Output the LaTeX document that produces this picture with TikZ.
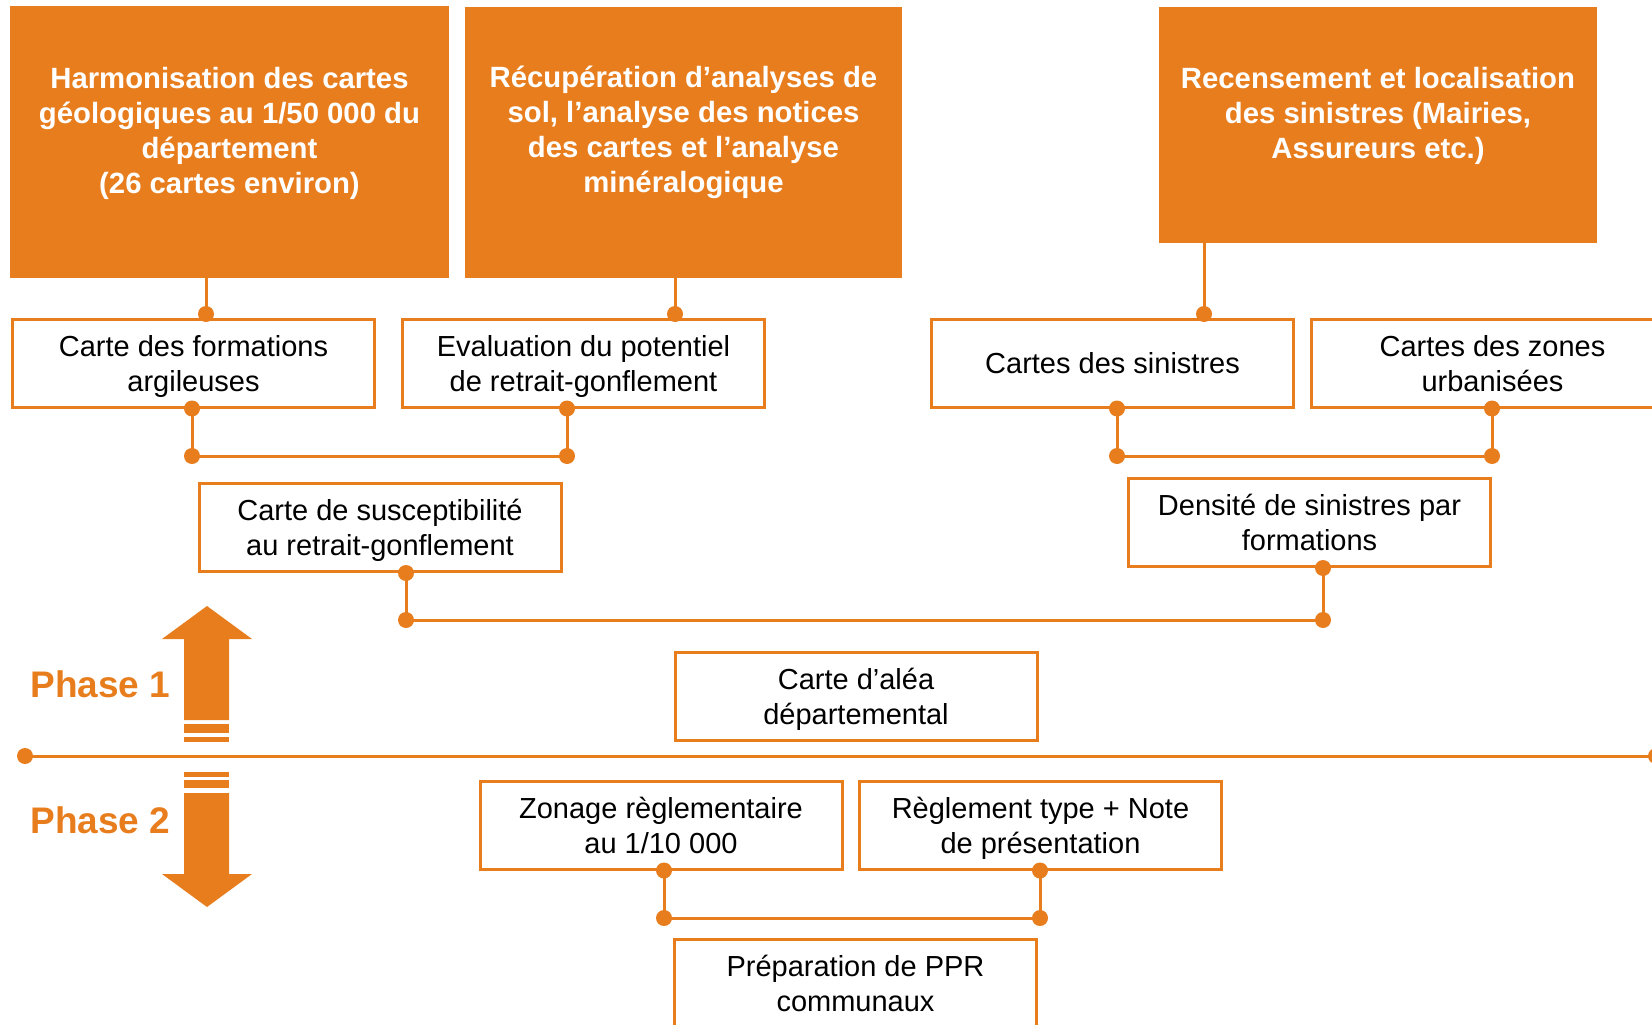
\documentclass[tikz,border=0pt]{standalone}
\usepackage{fontspec}
\setmainfont{Liberation Sans}
\definecolor{brgmorange}{RGB}{232,125,30}
\begin{document}
\begin{tikzpicture}[x=1pt,y=-1pt,
  orangebox/.style={fill=brgmorange, inner sep=0pt},
  titletext/.style={text=white, align=center, font=\fontsize{29.3}{35}\selectfont\bfseries},
  whitebox/.style={draw=brgmorange, line width=3pt, fill=white, inner sep=0pt, text depth=0pt,
    minimum width=362pt, minimum height=88pt, align=center, font=\fontsize{29}{35}\selectfont},
  link/.style={draw=brgmorange, line width=3pt},
  phasetext/.style={text=brgmorange, font=\fontsize{37}{40}\selectfont\bfseries}]
\useasboundingbox (0,0) rectangle (1652,1025);
\clip (0,0) rectangle (1652,1025);

% Data sources (orange boxes)
\node[orangebox, minimum width=439pt, minimum height=272pt] (harm) at (229.5,142) {};
\node[titletext] (harmtxt) at (229.5,133)
  {Harmonisation des cartes\\géologiques au 1/50 000 du\\département\\(26 cartes environ)};
\node[orangebox, minimum width=437pt, minimum height=271pt] (recup) at (683.5,142.5) {};
\node[titletext] (recuptxt) at (683.5,132)
  {Récupération d’analyses de\\sol, l’analyse des notices\\des cartes et l’analyse\\minéralogique};
\node[orangebox, minimum width=438pt, minimum height=236pt] (recens) at (1378,125) {};
\node[titletext] (recenstxt) at (1378,116)
  {Recensement et localisation\\des sinistres (Mairies,\\Assureurs etc.)};

% Phase 1 products
\node[whitebox] (form) at (193.5,363) {Carte des formations\\argileuses};
\node[whitebox] (eval) at (583.5,363) {Evaluation du potentiel\\de retrait-gonflement};
\node[whitebox] (sinis) at (1112.5,363) {Cartes des sinistres};
\node[whitebox] (zones) at (1492.5,363) {Cartes des zones\\urbanisées};
\node[whitebox] (susc) at (380,527.5) {Carte de susceptibilité\\au retrait-gonflement};
\node[whitebox] (dens) at (1309.5,522.5) {Densité de sinistres par\\formations};
\node[whitebox] (alea) at (856,696.5) {Carte d’aléa\\départemental};

% Phase 2 products
\node[whitebox] (zonage) at (661,825) {Zonage règlementaire\\au 1/10 000};
\node[whitebox] (regl) at (1040.5,825) {Règlement type + Note\\de présentation};
\node[whitebox] (prep) at (855.5,983) {Préparation de PPR\\communaux};

% Junction points
\coordinate (hd) at (206,314);
\coordinate (rd) at (675,314);
\coordinate (sd) at (1204,314);
\coordinate (f2) at (192,456);
\coordinate (e2) at (567,456);
\coordinate (c2) at (1117,456);
\coordinate (z2) at (1492,456);
\coordinate (s2) at (406,620);
\coordinate (n2) at (1323,620);
\coordinate (zg2) at (664,918);
\coordinate (rg2) at (1040,918);
\coordinate (pl) at (25,756);
\coordinate (pr) at (1656,756);

% Connectors
\draw[link] (harm.south -| hd) -- (hd);
\draw[link] (recup.south -| rd) -- (rd);
\draw[link] (recens.south -| sd) -- (sd);
\draw[link] (form.south -| f2) -- (f2) -- (e2) -- (eval.south -| e2);
\draw[link] (sinis.south -| c2) -- (c2) -- (z2) -- (zones.south -| z2);
\draw[link] (susc.south -| s2) -- (s2) -- (n2) -- (dens.south -| n2);
\draw[link] (zonage.south -| zg2) -- (zg2) -- (rg2) -- (regl.south -| rg2);
\draw[link] (pl) -- (pr);

% Dots
\foreach \p in {hd,rd,sd,f2,e2,c2,z2,s2,n2,zg2,rg2,pl,pr}
  \fill[brgmorange] (\p) circle[radius=8pt];
\foreach \p/\b in {f2/form,e2/eval,c2/sinis,z2/zones,s2/susc,n2/dens,zg2/zonage,rg2/regl}
  \fill[brgmorange] (\b.south -| \p) circle[radius=8pt];

% Phase arrows
\fill[brgmorange] (207,606) -- (252,639) -- (229,639) -- (229,720) -- (184,720) -- (184,639) -- (162,639) -- cycle;
\fill[brgmorange] (184,724) rectangle (229,733);
\fill[brgmorange] (184,737) rectangle (229,742);
\fill[brgmorange] (184,772) rectangle (229,777);
\fill[brgmorange] (184,780) rectangle (229,788);
\fill[brgmorange] (184,793) -- (229,793) -- (229,874) -- (252,874) -- (207,907) -- (162,874) -- (184,874) -- cycle;
\node[phasetext, anchor=base west] (ph1) at (27,697) {Phase 1};
\node[phasetext, anchor=base west] (ph2) at (27,833) {Phase 2};
\end{tikzpicture}
\end{document}
